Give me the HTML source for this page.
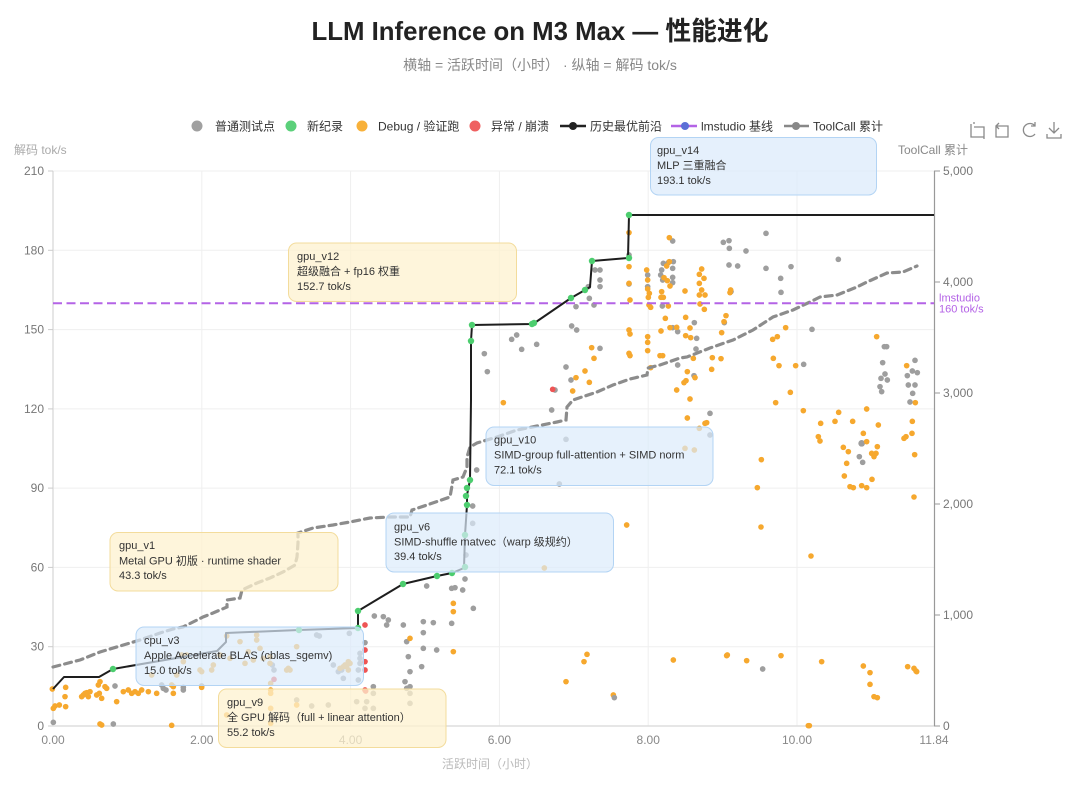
<!DOCTYPE html>
<html><head><meta charset="utf-8"><style>
html,body{margin:0;padding:0;background:#fff;}
svg{display:block;font-family:"Liberation Sans","Noto Sans CJK SC",sans-serif;}
</style></head><body>
<svg width="1080" height="801" viewBox="0 0 1080 801" xmlns="http://www.w3.org/2000/svg">
<rect width="1080" height="801" fill="#fff"/>
<!-- title -->
<text x="540" y="40" text-anchor="middle" font-size="26" font-weight="bold" fill="#222" textLength="457" lengthAdjust="spacingAndGlyphs">LLM Inference on M3 Max — 性能进化</text>
<text x="540" y="70" text-anchor="middle" font-size="14" fill="#888">横轴 = 活跃时间（小时） · 纵轴 = 解码 tok/s</text>

<!-- legend -->
<g font-size="12" fill="#333">
<circle cx="197" cy="126" r="5.5" fill="#a0a0a0"/><text x="215" y="130.5">普通测试点</text>
<circle cx="291" cy="126" r="5.5" fill="#5bd07a"/><text x="307" y="130.5">新纪录</text>
<circle cx="362" cy="126" r="5.5" fill="#f8b13a"/><text x="378" y="130.5">Debug / 验证跑</text>
<circle cx="475" cy="126" r="5.5" fill="#ef6060"/><text x="491" y="130.5">异常 / 崩溃</text>
<line x1="560" y1="126" x2="586" y2="126" stroke="#222" stroke-width="2.5"/><circle cx="573" cy="126" r="4" fill="#222"/><text x="590" y="130.5">历史最优前沿</text>
<line x1="671" y1="126" x2="697" y2="126" stroke="#b463e6" stroke-width="2.5"/><circle cx="685" cy="126" r="4" fill="#5b6fd6"/><text x="701" y="130.5">lmstudio 基线</text>
<line x1="784" y1="126" x2="809" y2="126" stroke="#888" stroke-width="2.5"/><circle cx="796" cy="126" r="4" fill="#888"/><text x="813" y="130.5">ToolCall 累计</text>
</g>

<!-- toolbox icons -->
<g fill="none" stroke="#8a8a8a" stroke-width="1.3">
<path d="M971 124 v13 h13 M974 124 v-2 M974 127 h10 v12"/>
<path d="M996 126 h12 v11 h-12 z M996 126 l3 -3 M996 126 l3 3"/>
<path d="M1035 126 a6.5 6.5 0 1 0 0 8 M1035 122 v4 h-4"/>
<path d="M1054 122 v11 M1049 128 l5 5 l5 -5 M1047 134 v4 h14 v-4"/>
</g>

<!-- axis titles -->
<text x="14" y="154" font-size="12" fill="#aaa">解码 tok/s</text>
<text x="898" y="154" font-size="12" fill="#888">ToolCall 累计</text>

<!-- grid -->
<g stroke="#efefef" stroke-width="1">
<line x1="53" y1="171" x2="934" y2="171"/>
<line x1="53" y1="250.3" x2="934" y2="250.3"/>
<line x1="53" y1="329.6" x2="934" y2="329.6"/>
<line x1="53" y1="408.9" x2="934" y2="408.9"/>
<line x1="53" y1="488.1" x2="934" y2="488.1"/>
<line x1="53" y1="567.4" x2="934" y2="567.4"/>
<line x1="53" y1="646.7" x2="934" y2="646.7"/>
<line x1="201.8" y1="171" x2="201.8" y2="726"/>
<line x1="350.6" y1="171" x2="350.6" y2="726"/>
<line x1="499.4" y1="171" x2="499.4" y2="726"/>
<line x1="648.2" y1="171" x2="648.2" y2="726"/>
<line x1="797" y1="171" x2="797" y2="726"/>
</g>
<!-- axes -->
<line x1="53" y1="171" x2="53" y2="726" stroke="#ddd" stroke-width="1.5"/>
<line x1="53" y1="726" x2="934" y2="726" stroke="#ddd" stroke-width="1.5"/>
<line x1="934.5" y1="171" x2="934.5" y2="726" stroke="#999" stroke-width="1.2"/>
<g stroke="#ccc">
<line x1="48" y1="171" x2="53" y2="171"/><line x1="48" y1="250.3" x2="53" y2="250.3"/><line x1="48" y1="329.6" x2="53" y2="329.6"/><line x1="48" y1="408.9" x2="53" y2="408.9"/><line x1="48" y1="488.1" x2="53" y2="488.1"/><line x1="48" y1="567.4" x2="53" y2="567.4"/><line x1="48" y1="646.7" x2="53" y2="646.7"/><line x1="48" y1="726" x2="53" y2="726"/>
</g>
<g stroke="#999">
<line x1="934" y1="171" x2="940" y2="171"/><line x1="934" y1="282" x2="940" y2="282"/><line x1="934" y1="393" x2="940" y2="393"/><line x1="934" y1="504" x2="940" y2="504"/><line x1="934" y1="615" x2="940" y2="615"/><line x1="934" y1="726" x2="940" y2="726"/>
</g>
<g font-size="12" fill="#777" text-anchor="end">
<text x="44" y="175">210</text><text x="44" y="254.3">180</text><text x="44" y="333.6">150</text><text x="44" y="412.9">120</text><text x="44" y="492.1">90</text><text x="44" y="571.4">60</text><text x="44" y="650.7">30</text><text x="44" y="730">0</text>
</g>
<g font-size="12" fill="#777">
<text x="943" y="175">5,000</text><text x="943" y="286">4,000</text><text x="943" y="397">3,000</text><text x="943" y="508">2,000</text><text x="943" y="619">1,000</text><text x="943" y="730">0</text>
</g>
<g font-size="12" fill="#888" text-anchor="middle">
<text x="53" y="744">0.00</text><text x="201.8" y="744">2.00</text><text x="350.6" y="744">4.00</text><text x="499.4" y="744">6.00</text><text x="648.2" y="744">8.00</text><text x="797" y="744">10.00</text><text x="934" y="744">11.84</text>
</g>
<text x="490" y="768" font-size="12" fill="#bbb" text-anchor="middle">活跃时间（小时）</text>

<!-- scatter A -->
<g transform="translate(280,190) scale(0.33333)">
<g fill="#9e9e9e">
<circle cx="945" cy="240" r="8.5"/><circle cx="925" cy="290" r="8.5"/><circle cx="928" cy="325" r="8.5"/><circle cx="942" cy="345" r="8.5"/><circle cx="888" cy="350" r="8.5"/><circle cx="875" cy="408" r="8.5"/><circle cx="890" cy="420" r="8.5"/><circle cx="695" cy="448" r="8.5"/><circle cx="710" cy="435" r="8.5"/><circle cx="725" cy="478" r="8.5"/><circle cx="770" cy="463" r="8.5"/><circle cx="613" cy="491" r="8.5"/><circle cx="622" cy="545" r="8.5"/><circle cx="858" cy="531" r="8.5"/><circle cx="873" cy="570" r="8.5"/><circle cx="815" cy="660" r="8.5"/><circle cx="825" cy="600" r="8.5"/>
</g>
<g fill="#f6a82e">
<circle cx="935" cy="473" r="8.5"/><circle cx="942" cy="505" r="8.5"/><circle cx="915" cy="543" r="8.5"/><circle cx="888" cy="563" r="8.5"/><circle cx="928" cy="577" r="8.5"/><circle cx="878" cy="603" r="8.5"/><circle cx="670" cy="638" r="8.5"/>
</g>
<circle cx="818" cy="598" r="8.5" fill="#ee5555"/>
</g>

<!-- scatter B -->
<g transform="translate(600,190) scale(0.33333)">
<g fill="#9e9e9e">
<circle cx="0" cy="240" r="8.5"/><circle cx="0" cy="270" r="8.5"/><circle cx="0" cy="290" r="8.5"/><circle cx="0" cy="475" r="8.5"/><circle cx="87" cy="195" r="8.5"/><circle cx="87" cy="282" r="8.5"/><circle cx="143" cy="255" r="8.5"/><circle cx="143" cy="290" r="8.5"/><circle cx="190" cy="220" r="8.5"/><circle cx="185" cy="240" r="8.5"/><circle cx="182" cy="255" r="8.5"/><circle cx="188" cy="270" r="8.5"/><circle cx="218" cy="153" r="8.5"/><circle cx="205" cy="218" r="8.5"/><circle cx="220" cy="215" r="8.5"/><circle cx="218" cy="235" r="8.5"/><circle cx="218" cy="262" r="8.5"/><circle cx="218" cy="278" r="8.5"/><circle cx="187" cy="348" r="8.5"/><circle cx="233" cy="425" r="8.5"/><circle cx="218" cy="413" r="8.5"/><circle cx="370" cy="157" r="8.5"/><circle cx="387" cy="152" r="8.5"/><circle cx="388" cy="175" r="8.5"/><circle cx="438" cy="183" r="8.5"/><circle cx="498" cy="130" r="8.5"/><circle cx="387" cy="225" r="8.5"/><circle cx="413" cy="228" r="8.5"/><circle cx="498" cy="235" r="8.5"/><circle cx="573" cy="230" r="8.5"/><circle cx="542" cy="265" r="8.5"/><circle cx="543" cy="307" r="8.5"/><circle cx="393" cy="305" r="8.5"/><circle cx="373" cy="398" r="8.5"/><circle cx="283" cy="398" r="8.5"/><circle cx="290" cy="445" r="8.5"/><circle cx="288" cy="477" r="8.5"/><circle cx="233" cy="525" r="8.5"/><circle cx="282" cy="557" r="8.5"/><circle cx="330" cy="670" r="8.5"/><circle cx="330" cy="735" r="8.5"/><circle cx="636" cy="418" r="8.5"/><circle cx="611" cy="523" r="8.5"/><circle cx="715" cy="208" r="8.5"/><circle cx="853" cy="470" r="8.5"/><circle cx="860" cy="470" r="8.5"/><circle cx="848" cy="518" r="8.5"/><circle cx="855" cy="552" r="8.5"/><circle cx="843" cy="565" r="8.5"/><circle cx="862" cy="570" r="8.5"/><circle cx="840" cy="590" r="8.5"/><circle cx="845" cy="605" r="8.5"/><circle cx="945" cy="511" r="8.5"/><circle cx="937" cy="543" r="8.5"/><circle cx="952" cy="548" r="8.5"/><circle cx="922" cy="557" r="8.5"/><circle cx="925" cy="585" r="8.5"/><circle cx="945" cy="585" r="8.5"/><circle cx="938" cy="610" r="8.5"/><circle cx="930" cy="636" r="8.5"/><circle cx="785" cy="760" r="10"/><circle cx="778" cy="800" r="8.5"/><circle cx="788" cy="817" r="8.5"/>
</g>
<g fill="#f6a82e">
<circle cx="87" cy="128" r="8.5"/><circle cx="87" cy="230" r="8.5"/><circle cx="87" cy="280" r="8.5"/><circle cx="90" cy="330" r="8.5"/><circle cx="87" cy="420" r="8.5"/><circle cx="90" cy="432" r="8.5"/><circle cx="87" cy="490" r="8.5"/><circle cx="90" cy="497" r="8.5"/><circle cx="140" cy="240" r="8.5"/><circle cx="143" cy="270" r="8.5"/><circle cx="143" cy="297" r="8.5"/><circle cx="148" cy="310" r="8.5"/><circle cx="145" cy="322" r="8.5"/><circle cx="147" cy="345" r="8.5"/><circle cx="152" cy="352" r="8.5"/><circle cx="143" cy="440" r="8.5"/><circle cx="143" cy="457" r="8.5"/><circle cx="143" cy="482" r="8.5"/><circle cx="152" cy="533" r="8.5"/><circle cx="208" cy="143" r="8.5"/><circle cx="200" cy="228" r="8.5"/><circle cx="208" cy="215" r="8.5"/><circle cx="192" cy="263" r="8.5"/><circle cx="202" cy="272" r="8.5"/><circle cx="210" cy="288" r="8.5"/><circle cx="185" cy="305" r="8.5"/><circle cx="190" cy="322" r="8.5"/><circle cx="183" cy="322" r="8.5"/><circle cx="205" cy="348" r="8.5"/><circle cx="196" cy="385" r="8.5"/><circle cx="210" cy="413" r="8.5"/><circle cx="230" cy="412" r="8.5"/><circle cx="183" cy="423" r="8.5"/><circle cx="180" cy="497" r="8.5"/><circle cx="188" cy="497" r="8.5"/><circle cx="257" cy="382" r="8.5"/><circle cx="257" cy="437" r="8.5"/><circle cx="272" cy="443" r="8.5"/><circle cx="270" cy="414" r="8.5"/><circle cx="255" cy="303" r="8.5"/><circle cx="280" cy="505" r="8.5"/><circle cx="305" cy="237" r="8.5"/><circle cx="298" cy="253" r="8.5"/><circle cx="312" cy="265" r="8.5"/><circle cx="298" cy="280" r="8.5"/><circle cx="305" cy="300" r="8.5"/><circle cx="298" cy="315" r="8.5"/><circle cx="315" cy="315" r="8.5"/><circle cx="313" cy="358" r="8.5"/><circle cx="300" cy="342" r="8.5"/><circle cx="262" cy="545" r="8.5"/><circle cx="258" cy="572" r="8.5"/><circle cx="252" cy="578" r="8.5"/><circle cx="230" cy="600" r="8.5"/><circle cx="270" cy="627" r="8.5"/><circle cx="285" cy="563" r="8.5"/><circle cx="337" cy="503" r="8.5"/><circle cx="363" cy="506" r="8.5"/><circle cx="335" cy="538" r="8.5"/><circle cx="378" cy="377" r="8.5"/><circle cx="372" cy="395" r="8.5"/><circle cx="365" cy="428" r="8.5"/><circle cx="392" cy="300" r="8.5"/><circle cx="390" cy="308" r="8.5"/><circle cx="557" cy="413" r="8.5"/><circle cx="518" cy="448" r="8.5"/><circle cx="532" cy="440" r="8.5"/><circle cx="520" cy="505" r="8.5"/><circle cx="537" cy="527" r="8.5"/><circle cx="587" cy="527" r="8.5"/><circle cx="571" cy="607" r="8.5"/><circle cx="527" cy="638" r="8.5"/><circle cx="610" cy="662" r="8.5"/><circle cx="262" cy="684" r="8.5"/><circle cx="315" cy="700" r="8.5"/><circle cx="320" cy="698" r="8.5"/><circle cx="298" cy="715" r="8.5"/><circle cx="255" cy="775" r="8.5"/><circle cx="283" cy="780" r="8.5"/><circle cx="484" cy="809" r="8.5"/><circle cx="472" cy="893" r="8.5"/><circle cx="830" cy="440" r="8.5"/><circle cx="920" cy="527" r="8.5"/><circle cx="946" cy="638" r="8.5"/><circle cx="937" cy="694" r="8.5"/><circle cx="936" cy="730" r="8.5"/><circle cx="918" cy="740" r="8.5"/><circle cx="912" cy="745" r="8.5"/><circle cx="944" cy="794" r="8.5"/><circle cx="716" cy="667" r="8.5"/><circle cx="705" cy="694" r="8.5"/><circle cx="662" cy="700" r="8.5"/><circle cx="758" cy="694" r="8.5"/><circle cx="800" cy="657" r="8.5"/><circle cx="835" cy="705" r="8.5"/><circle cx="790" cy="730" r="8.5"/><circle cx="800" cy="755" r="8.5"/><circle cx="832" cy="770" r="8.5"/><circle cx="828" cy="790" r="8.5"/><circle cx="815" cy="790" r="8.5"/><circle cx="822" cy="800" r="8.5"/><circle cx="730" cy="772" r="8.5"/><circle cx="745" cy="785" r="8.5"/><circle cx="740" cy="820" r="8.5"/><circle cx="733" cy="858" r="8.5"/><circle cx="750" cy="890" r="8.5"/><circle cx="760" cy="893" r="8.5"/><circle cx="785" cy="887" r="8.5"/><circle cx="800" cy="893" r="8.5"/><circle cx="816" cy="868" r="8.5"/><circle cx="655" cy="740" r="8.5"/><circle cx="660" cy="753" r="8.5"/>
</g>
</g>

<!-- scatter C -->
<g transform="translate(330,400) scale(0.33333)">
<g fill="#9e9e9e">
<circle cx="708" cy="118" r="8.5"/><circle cx="440" cy="210" r="8.5"/><circle cx="688" cy="252" r="8.5"/><circle cx="428" cy="318" r="8.5"/><circle cx="428" cy="370" r="8.5"/><circle cx="408" cy="465" r="8.5"/><circle cx="405" cy="537" r="8.5"/><circle cx="365" cy="565" r="8.5"/><circle cx="375" cy="563" r="8.5"/><circle cx="398" cy="570" r="8.5"/><circle cx="290" cy="558" r="8.5"/>
</g>
<circle cx="890" cy="375" r="8.5" fill="#f6a82e"/>
</g>

<!-- scatter D -->
<g transform="translate(0,600) scale(0.33333)">
<g fill="#9e9e9e">
<circle cx="160" cy="367" r="8.5"/><circle cx="340" cy="372" r="8.5"/><circle cx="345" cy="258" r="8.5"/><circle cx="485" cy="255" r="8.5"/><circle cx="490" cy="265" r="8.5"/><circle cx="498" cy="270" r="8.5"/><circle cx="550" cy="262" r="8.5"/><circle cx="550" cy="270" r="8.5"/><circle cx="605" cy="258" r="8.5"/><circle cx="817" cy="195" r="8.5"/><circle cx="822" cy="210" r="8.5"/><circle cx="890" cy="300" r="8.5"/><circle cx="935" cy="318" r="8.5"/><circle cx="985" cy="315" r="8.5"/><circle cx="950" cy="105" r="8.5"/><circle cx="958" cy="108" r="8.5"/><circle cx="1000" cy="195" r="8.5"/><circle cx="1015" cy="215" r="8.5"/><circle cx="1030" cy="235" r="8.5"/><circle cx="1025" cy="210" r="8.5"/><circle cx="1048" cy="100" r="8.5"/><circle cx="1075" cy="210" r="8.5"/><circle cx="1080" cy="190" r="8.5"/><circle cx="1075" cy="240" r="8.5"/><circle cx="1095" cy="128" r="8.5"/><circle cx="1080" cy="160" r="8.5"/><circle cx="1080" cy="175" r="8.5"/><circle cx="1070" cy="305" r="8.5"/><circle cx="1100" cy="305" r="8.5"/><circle cx="1120" cy="325" r="8.5"/><circle cx="1120" cy="260" r="8.5"/><circle cx="1120" cy="280" r="8.5"/><circle cx="1095" cy="325" r="8.5"/><circle cx="1123" cy="48" r="8.5"/><circle cx="1150" cy="50" r="8.5"/><circle cx="1165" cy="60" r="8.5"/><circle cx="1160" cy="75" r="8.5"/><circle cx="1210" cy="75" r="8.5"/><circle cx="1220" cy="125" r="8.5"/><circle cx="1225" cy="170" r="8.5"/><circle cx="1230" cy="215" r="8.5"/><circle cx="1215" cy="245" r="8.5"/><circle cx="1230" cy="260" r="8.5"/><circle cx="1220" cy="265" r="8.5"/><circle cx="1230" cy="280" r="8.5"/><circle cx="1230" cy="310" r="8.5"/><circle cx="1265" cy="200" r="8.5"/><circle cx="1270" cy="65" r="8.5"/><circle cx="1300" cy="68" r="8.5"/><circle cx="1270" cy="98" r="8.5"/><circle cx="1270" cy="145" r="8.5"/><circle cx="1310" cy="150" r="8.5"/><circle cx="1355" cy="70" r="8.5"/><circle cx="1420" cy="25" r="8.5"/>
</g>
<g fill="#f6a82e">
<circle cx="157" cy="267" r="8.5"/><circle cx="160" cy="325" r="8.5"/><circle cx="165" cy="318" r="8.5"/><circle cx="178" cy="315" r="8.5"/><circle cx="195" cy="290" r="8.5"/><circle cx="197" cy="262" r="8.5"/><circle cx="197" cy="320" r="8.5"/><circle cx="245" cy="290" r="8.5"/><circle cx="250" cy="285" r="8.5"/><circle cx="255" cy="280" r="8.5"/><circle cx="265" cy="290" r="8.5"/><circle cx="260" cy="278" r="8.5"/><circle cx="270" cy="275" r="8.5"/><circle cx="290" cy="285" r="8.5"/><circle cx="298" cy="280" r="8.5"/><circle cx="295" cy="255" r="8.5"/><circle cx="300" cy="245" r="8.5"/><circle cx="305" cy="295" r="8.5"/><circle cx="315" cy="260" r="8.5"/><circle cx="320" cy="265" r="8.5"/><circle cx="300" cy="372" r="8.5"/><circle cx="305" cy="375" r="8.5"/><circle cx="350" cy="305" r="8.5"/><circle cx="370" cy="275" r="8.5"/><circle cx="385" cy="270" r="8.5"/><circle cx="395" cy="280" r="8.5"/><circle cx="405" cy="275" r="8.5"/><circle cx="415" cy="280" r="8.5"/><circle cx="425" cy="270" r="8.5"/><circle cx="445" cy="275" r="8.5"/><circle cx="470" cy="280" r="8.5"/><circle cx="455" cy="225" r="8.5"/><circle cx="515" cy="255" r="8.5"/><circle cx="520" cy="280" r="8.5"/><circle cx="515" cy="376" r="8.5"/><circle cx="520" cy="260" r="8.5"/><circle cx="530" cy="225" r="8.5"/><circle cx="545" cy="165" r="8.5"/><circle cx="550" cy="185" r="8.5"/><circle cx="560" cy="165" r="8.5"/><circle cx="600" cy="210" r="8.5"/><circle cx="605" cy="215" r="8.5"/><circle cx="605" cy="262" r="8.5"/><circle cx="635" cy="210" r="8.5"/><circle cx="640" cy="195" r="8.5"/><circle cx="660" cy="165" r="8.5"/><circle cx="680" cy="108" r="8.5"/><circle cx="690" cy="175" r="8.5"/><circle cx="680" cy="345" r="8.5"/><circle cx="720" cy="125" r="8.5"/><circle cx="735" cy="190" r="8.5"/><circle cx="745" cy="155" r="8.5"/><circle cx="760" cy="180" r="8.5"/><circle cx="770" cy="105" r="8.5"/><circle cx="770" cy="120" r="8.5"/><circle cx="780" cy="145" r="8.5"/><circle cx="790" cy="175" r="8.5"/><circle cx="810" cy="170" r="8.5"/><circle cx="810" cy="190" r="8.5"/><circle cx="812" cy="250" r="8.5"/><circle cx="812" cy="270" r="8.5"/><circle cx="812" cy="280" r="8.5"/><circle cx="812" cy="325" r="8.5"/><circle cx="812" cy="370" r="8.5"/><circle cx="860" cy="210" r="8.5"/><circle cx="865" cy="205" r="8.5"/><circle cx="870" cy="210" r="8.5"/><circle cx="890" cy="315" r="8.5"/><circle cx="890" cy="140" r="8.5"/><circle cx="1020" cy="205" r="8.5"/><circle cx="1030" cy="200" r="8.5"/><circle cx="1035" cy="195" r="8.5"/><circle cx="1045" cy="210" r="8.5"/><circle cx="1050" cy="190" r="8.5"/><circle cx="1045" cy="185" r="8.5"/><circle cx="1040" cy="200" r="8.5"/><circle cx="1360" cy="155" r="8.5"/><circle cx="1360" cy="10" r="8.5"/><circle cx="1360" cy="35" r="8.5"/><circle cx="1230" cy="115" r="8.5"/>
</g>
<g fill="#ee5555">
<circle cx="822" cy="238" r="8.5"/><circle cx="1095" cy="75" r="8.5"/><circle cx="1095" cy="150" r="8.5"/><circle cx="1095" cy="185" r="8.5"/><circle cx="1095" cy="210" r="8.5"/><circle cx="1095" cy="270" r="8.5"/><circle cx="1097" cy="273" r="8.5"/>
</g>
</g>

<!-- scatter E -->
<g transform="translate(440,560) scale(0.33333)">
<g fill="#f6a82e">
<circle cx="313" cy="24" r="8.5"/><circle cx="378" cy="365" r="8.5"/><circle cx="432" cy="305" r="8.5"/><circle cx="441" cy="283" r="8.5"/><circle cx="520" cy="405" r="8.5"/><circle cx="700" cy="300" r="8.5"/><circle cx="860" cy="287" r="8.5"/><circle cx="862" cy="285" r="8.5"/><circle cx="920" cy="302" r="8.5"/>
</g>
<circle cx="523" cy="413" r="8.5" fill="#9e9e9e"/>
</g>

<!-- scatter F -->
<g transform="translate(760,560) scale(0.33333)">
<g fill="#f6a82e">
<circle cx="63" cy="287" r="8.5"/><circle cx="185" cy="305" r="8.5"/><circle cx="310" cy="318" r="8.5"/><circle cx="330" cy="338" r="8.5"/><circle cx="330" cy="373" r="8.5"/><circle cx="342" cy="410" r="8.5"/><circle cx="352" cy="413" r="8.5"/><circle cx="443" cy="320" r="8.5"/><circle cx="462" cy="325" r="8.5"/><circle cx="468" cy="333" r="8.5"/><circle cx="470" cy="335" r="8.5"/><circle cx="145" cy="497" r="8.5"/><circle cx="148" cy="497" r="8.5"/>
</g>
<circle cx="8" cy="327" r="8.5" fill="#9e9e9e"/>
</g>
<g fill="#f6a82e">
<circle cx="761" cy="527" r="2.8"/><circle cx="811" cy="556" r="2.8"/><circle cx="914" cy="497" r="2.8"/>
</g>

<!-- ToolCall cumulative -->
<polyline fill="none" stroke="#8c8c8c" stroke-width="3.2" stroke-linecap="round" stroke-dasharray="7 5" points="53,667 80,660 100,652 140,640 160,633 173,629 183,627 203,617 213,613 227,607 227,600 240,598 242,590 257,583 270,578 283,572 295,565 297,557 298,543 298,533 313,528 333,525 350,522 370,518 390,517 410,517 412,510 427,505 450,497 453,480 463,477 467,467 467,457 470,447 477,443 497,437 517,430 537,426 557,422 566,420 567,407 573,400 597,392 613,385 630,379 647,375 648,368 660,365 680,358 687,357 710,348 733,340 753,330 773,317 793,310 810,302 820,297 837,295 857,287 867,282 887,273 903,272 917,266"/>

<!-- lmstudio baseline -->
<line x1="53" y1="303.2" x2="934" y2="303.2" stroke="#b463e6" stroke-width="2" stroke-dasharray="9 4.5"/>
<text x="939" y="301.5" font-size="11" fill="#b463e6">lmstudio</text>
<text x="939" y="312.5" font-size="11" fill="#b463e6">160 tok/s</text>

<!-- frontier -->
<polyline fill="none" stroke="#1e1e1e" stroke-width="2" stroke-linejoin="round" points="53,689 64,677 99,677 113,669 217,651 226,642 226,633 299,630 358,628 358,611 403,584 437,576 452,573 464,568 465,535 467,505 467,495 470,480 471,400 471,341 472,325 533,324 571,298 585,290 590,287 592,261 628,258 629,215 934,215"/>
<g fill="#4ccd6e">
<circle cx="113" cy="669" r="3.2"/><circle cx="299" cy="630" r="3.2"/><circle cx="358" cy="628" r="3.2"/><circle cx="358" cy="611" r="3.2"/><circle cx="403" cy="584" r="3.2"/><circle cx="437" cy="576" r="3.2"/><circle cx="452" cy="573" r="3.2"/><circle cx="465" cy="567" r="3.2"/><circle cx="465" cy="535" r="3.2"/><circle cx="467" cy="505" r="3.2"/><circle cx="466" cy="496" r="3.2"/><circle cx="467" cy="488" r="3.2"/><circle cx="470" cy="480" r="3.2"/><circle cx="471" cy="341" r="3.2"/><circle cx="472" cy="325" r="3.2"/><circle cx="532" cy="324" r="3.2"/><circle cx="534" cy="323" r="3.2"/><circle cx="571" cy="298" r="3.2"/><circle cx="585" cy="290" r="3.2"/><circle cx="592" cy="261" r="3.2"/><circle cx="629" cy="258" r="3.2"/><circle cx="629" cy="215" r="3.2"/>
</g>

<!-- annotation boxes -->
<g stroke-width="1">
<rect x="650.5" y="137.5" width="226" height="57.5" rx="8" fill="#dcebfb" fill-opacity="0.75" stroke="#b3d4f4"/>
<rect x="288.5" y="243" width="228" height="58.5" rx="8" fill="#fdf1cf" fill-opacity="0.75" stroke="#f3dc9c"/>
<rect x="486" y="427" width="227" height="58.5" rx="8" fill="#dcebfb" fill-opacity="0.7" stroke="#b3d4f4"/>
<rect x="386" y="513" width="227.5" height="59" rx="8" fill="#dcebfb" fill-opacity="0.7" stroke="#b3d4f4"/>
<rect x="110" y="532.5" width="228" height="58.5" rx="8" fill="#fdf1cf" fill-opacity="0.75" stroke="#f3dc9c"/>
<rect x="136" y="627" width="227.5" height="58.5" rx="8" fill="#dcebfb" fill-opacity="0.7" stroke="#b3d4f4"/>
<rect x="218.5" y="689" width="227.5" height="58.5" rx="8" fill="#fdf1cf" fill-opacity="0.75" stroke="#f3dc9c"/>
</g>
<g font-size="11" fill="#333">
<text x="657" y="154">gpu_v14</text><text x="657" y="169">MLP 三重融合</text><text x="657" y="184">193.1 tok/s</text>
<text x="297" y="260">gpu_v12</text><text x="297" y="275">超级融合 + fp16 权重</text><text x="297" y="290">152.7 tok/s</text>
<text x="494" y="443.5">gpu_v10</text><text x="494" y="458.5">SIMD-group full-attention + SIMD norm</text><text x="494" y="473.5">72.1 tok/s</text>
<text x="394" y="530.5">gpu_v6</text><text x="394" y="545.5">SIMD-shuffle matvec（warp 级规约）</text><text x="394" y="560">39.4 tok/s</text>
<text x="119" y="549">gpu_v1</text><text x="119" y="564.5">Metal GPU 初版 · runtime shader</text><text x="119" y="579">43.3 tok/s</text>
<text x="144" y="644">cpu_v3</text><text x="144" y="659">Apple Accelerate BLAS (cblas_sgemv)</text><text x="144" y="674">15.0 tok/s</text>
<text x="227" y="706">gpu_v9</text><text x="227" y="721">全 GPU 解码（full + linear attention）</text><text x="227" y="736">55.2 tok/s</text>
</g>
</svg>
</body></html>
